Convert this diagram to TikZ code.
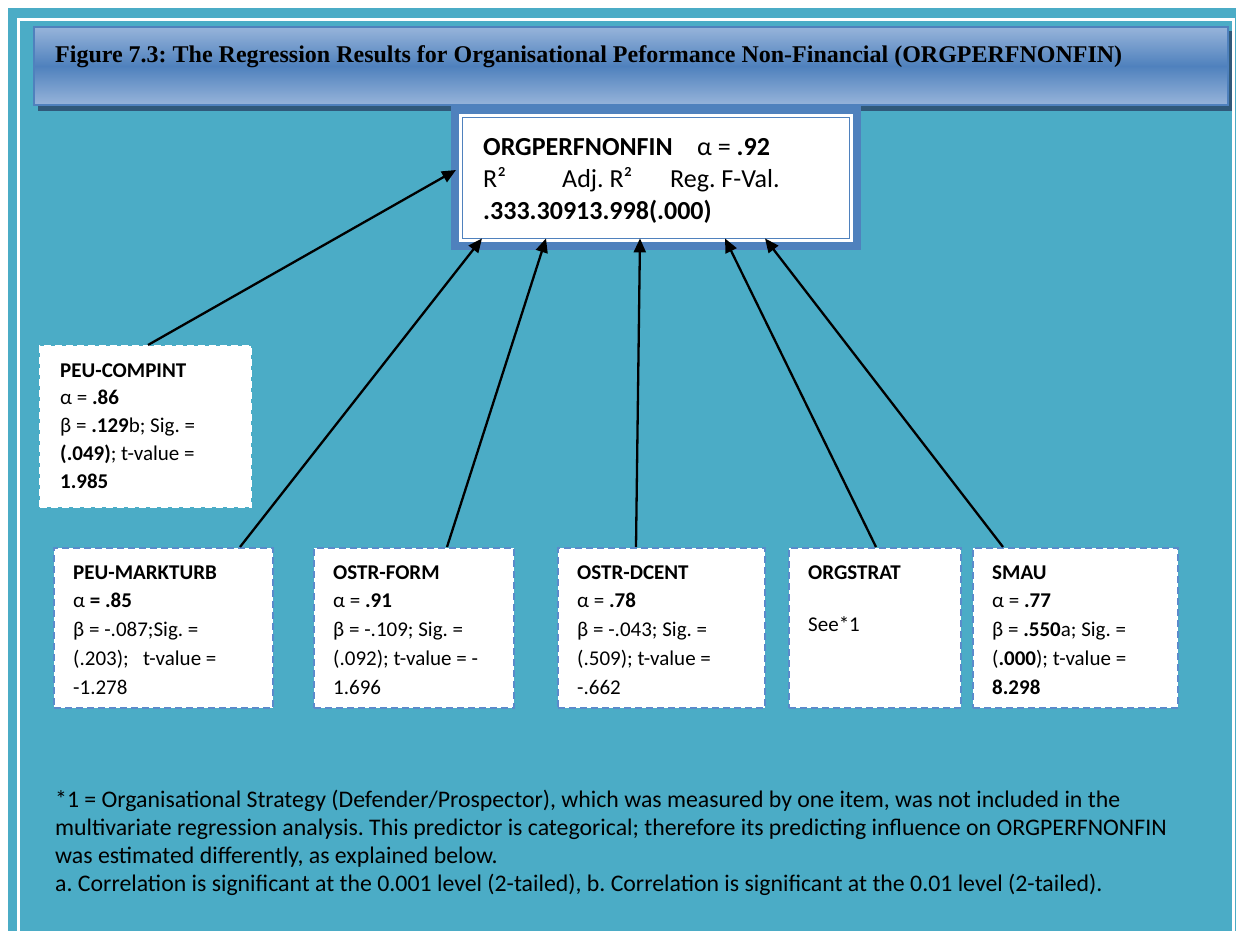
\documentclass[tikz,border=0pt]{standalone}
\usepackage{fontspec}
\setmainfont{Carlito}
\newfontfamily\timesf{Liberation Serif}
\usetikzlibrary{arrows.meta}
\definecolor{tealbg}{HTML}{4BACC6}
\definecolor{frblue}{HTML}{4F81BD}
\definecolor{lightbl}{HTML}{97B4DA}
\definecolor{shadowc}{HTML}{30597A}
\definecolor{dashbl}{HTML}{5B8BCB}
\frenchspacing
\begin{document}
\begin{tikzpicture}[x=1pt,y=-1pt,
  predbox/.style={draw=dashbl,line width=2pt,dash pattern=on 7pt off 4pt,fill=white,
    inner sep=0pt,anchor=north west,minimum height=160pt},
  txt/.style={anchor=base west,inner sep=0pt,font=\fontsize{21}{25}\selectfont},
  ctxt/.style={anchor=base west,inner sep=0pt,font=\fontsize{26}{30}\selectfont},
  ftxt/.style={anchor=base west,inner sep=0pt,font=\fontsize{23.8}{28}\selectfont},
  arr/.style={-{Triangle[length=14pt,width=12pt]},line width=2.3pt,black}]
\useasboundingbox (0,0) rectangle (1236,931);
\fill[white] (0,0) rectangle (1236,931);
\fill[tealbg] (8,8) rectangle (1236,931);
\draw[white,line width=3pt] (18.5,931) -- (18.5,19.5) -- (1233.5,19.5) -- (1233.5,931);
% title banner
\fill[shadowc] (38,31) rectangle (1232,111);
\shade[top color=lightbl,bottom color=lightbl,middle color=frblue,draw=frblue,line width=1.5pt]
  (34,27) rectangle (1228,105);
\node[anchor=base west,inner sep=0pt,font=\timesf\bfseries\fontsize{24}{28}\selectfont] (title) at (55,63)
  {Figure 7.3: The Regression Results for Organisational Peformance Non-Financial (ORGPERFNONFIN)};
% central box
\node[fill=frblue,inner sep=0pt,anchor=north west,minimum width=410pt,minimum height=146pt] (fr) at (451,104) {};
\node[fill=white,inner sep=0pt,anchor=north west,minimum width=394pt,minimum height=128pt] (tgt) at (459,114) {};
\draw[frblue,line width=1pt] ([xshift=3.5pt,yshift=-3.5pt]tgt.north west) rectangle ([xshift=-3.5pt,yshift=3.5pt]tgt.south east);
\node[ctxt] (c1) at (483,155) {\textbf{ORGPERFNONFIN}};
\node[ctxt] (c2) at (697,155) {α = \textbf{.92}};
\node[ctxt] (c3) at (483,187) {R²};
\node[ctxt] (c4) at (562,187) {Adj. R²};
\node[ctxt] (c5) at (670,187) {Reg. F-Val.};
\node[ctxt] (c6) at (483,219) {\textbf{.333.30913.998(.000)}};
% predictor boxes
\node[predbox,draw=white,minimum width=211pt,minimum height=161pt] (ci) at (39,345) {};
\node[predbox,minimum width=219pt] (mk) at (53,547) {};
\node[predbox,minimum width=200pt] (fo) at (313,547) {};
\node[predbox,minimum width=207pt] (dc) at (557,547) {};
\node[predbox,minimum width=172pt] (os) at (788,547) {};
\node[predbox,minimum width=205pt] (sm) at (972,547) {};
% texts
\foreach \t [count=\i] in {\textbf{PEU-COMPINT},α = \textbf{.86},β = \textbf{.129}b; Sig. =,\textbf{(.049)}; t-value =,\textbf{1.985}}
  \node[txt] (ci\i) at (60,{377+27.8*(\i-1)}) {\t};
\foreach \t [count=\i] in {\textbf{PEU-MARKTURB},α \textbf{= .85},β = -.087;Sig. =,(.203);\ \ \ t-value =,-1.278}
  \node[txt] (mk\i) at (73,{579+28.8*(\i-1)}) {\t};
\foreach \t [count=\i] in {\textbf{OSTR-FORM},α = \textbf{.91},β = -.109; Sig. =,(.092); t-value = -,1.696}
  \node[txt] (fo\i) at (333,{579+28.8*(\i-1)}) {\t};
\foreach \t [count=\i] in {\textbf{OSTR-DCENT},α = \textbf{.78},β = -.043; Sig. =,(.509); t-value =,-.662}
  \node[txt] (dc\i) at (577,{579+28.8*(\i-1)}) {\t};
\node[txt] (os1) at (808,579) {\textbf{ORGSTRAT}};
\node[txt] (os2) at (808,631) {See*1};
\foreach \t [count=\i] in {\textbf{SMAU},α = \textbf{.77},β = \textbf{.550}a; Sig. =,(\textbf{.000}); t-value =,\textbf{8.298}}
  \node[txt] (sm\i) at (992,{579+28.8*(\i-1)}) {\t};
% footnote
\foreach \t [count=\i] in {{*1 = Organisational Strategy (Defender/Prospector), which was measured by one item, was not included in the},
  {multivariate regression analysis. This predictor is categorical; therefore its predicting influence on ORGPERFNONFIN},
  {was estimated differently, as explained below.},
  {a. Correlation is significant at the 0.001 level (2-tailed), b. Correlation is significant at the 0.01 level (2-tailed).}}
  \node[ftxt] (fn\i) at (55,{807+28.3*(\i-1)}) {\t};
% connectors
\draw[arr] ([xshift=2.5pt]ci.north) -- ([xshift=5pt,yshift=-66pt]fr.north west);
\draw[arr] ([xshift=187pt]mk.north west) -- ([xshift=31pt,yshift=12pt]fr.south west);
\draw[arr] ([xshift=134pt]fo.north west) -- ([xshift=95pt,yshift=12pt]fr.south west);
\draw[arr] ([xshift=79pt]dc.north west) -- ([xshift=189pt,yshift=12pt]fr.south west);
\draw[arr] ([xshift=88pt]os.north west) -- ([xshift=274pt,yshift=12pt]fr.south west);
\draw[arr] ([xshift=31pt]sm.north west) -- ([xshift=314pt,yshift=12pt]fr.south west);
\end{tikzpicture}
\end{document}
